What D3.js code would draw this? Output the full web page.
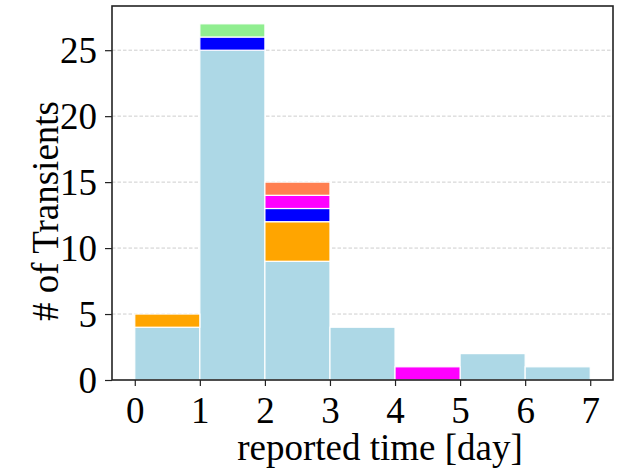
<!DOCTYPE html>
<html>
<head>
<meta charset="utf-8">
<script src="https://cdn.jsdelivr.net/npm/d3@7"></script>
<style>
  body { margin: 0; background: #fff; }
  svg { display: block; font-family: "Liberation Serif", "DejaVu Serif", serif; }
</style>
</head>
<body>
<svg id="chart" width="617" height="468"></svg>
<script>
// Histogram bin edges (days)
const binEdges = [0, 1, 2, 3, 4, 5, 6, 7];
// Counts per bin for each stacked group
const countsLightblue = [4, 25, 9, 4, 0, 2, 1];
const countsOrange = [1, 0, 3, 0, 0, 0, 0];
const countsBlue = [0, 1, 1, 0, 0, 0, 0];
const countsMagenta = [0, 0, 1, 0, 1, 0, 0];
const countsCoral = [0, 0, 1, 0, 0, 0, 0];
const countsLightgreen = [0, 1, 0, 0, 0, 0, 0];
const seriesKeys = ['lightblue', 'orange', 'blue', 'magenta', 'coral', 'lightgreen'];
const seriesColors = ['#add8e6', '#ffa500', '#0000ff', '#ff00ff', '#ff7f50', '#90ee90'];
const xTicks = [0, 1, 2, 3, 4, 5, 6, 7];
const yTicks = [0, 5, 10, 15, 20, 25];

const margin = { top: 6, right: 4, bottom: 88, left: 112 };
const width = 617, height = 468;
const fontSize = 37;
const svg = d3.select('#chart');

// build table for d3.stack
const allCounts = [countsLightblue, countsOrange, countsBlue, countsMagenta, countsCoral, countsLightgreen];
const table = binEdges.slice(0, -1).map((x0, i) => {
    const row = { x0: x0, x1: binEdges[i + 1] };
    seriesKeys.forEach((k, j) => row[k] = allCounts[j][i]);
    return row;
});
const stacked = d3.stack().keys(seriesKeys)(table);
const maxTotal = d3.max(table, d => d3.sum(seriesKeys, k => d[k]));

const x = d3.scaleLinear()
    .domain([-0.35, 7.35])
    .range([margin.left, width - margin.right]);
const y = d3.scaleLinear()
    .domain([0, maxTotal * 1.05])
    .range([height - margin.bottom, margin.top]);

// grid
svg.append('g')
    .selectAll('line')
    .data(yTicks.filter(t => t > 0))
    .join('line')
    .attr('x1', margin.left)
    .attr('x2', width - margin.right)
    .attr('y1', d => y(d))
    .attr('y2', d => y(d))
    .attr('stroke', '#c8c8c8')
    .attr('stroke-width', 0.9)
    .attr('stroke-dasharray', '3.5,2');

// bars
const color = d3.scaleOrdinal().domain(seriesKeys).range(seriesColors);
svg.append('g')
    .selectAll('g')
    .data(stacked)
    .join('g')
    .attr('fill', d => color(d.key))
    .selectAll('rect')
    .data(d => d.filter(s => s[1] > s[0]))
    .join('rect')
    .attr('x', d => x(d.data.x0))
    .attr('width', d => x(d.data.x1) - x(d.data.x0))
    .attr('y', d => y(d[1]))
    .attr('height', d => y(d[0]) - y(d[1]))
    .attr('stroke', '#fff')
    .attr('stroke-width', 1.2);

// axes
const xAxis = svg.append('g')
    .attr('transform', `translate(0,${height - margin.bottom})`)
    .call(d3.axisBottom(x).tickValues(xTicks).tickSize(6).tickPadding(11).tickFormat(d3.format('d')));
const yAxis = svg.append('g')
    .attr('transform', `translate(${margin.left},0)`)
    .call(d3.axisLeft(y).tickValues(yTicks).tickSize(7).tickPadding(8).tickFormat(d3.format('d')));

[xAxis, yAxis].forEach(g => {
    g.select('.domain').remove();
    g.selectAll('line').attr('stroke', '#222').attr('stroke-width', 1.2);
    g.selectAll('text')
        .attr('fill', '#000')
        .style('font-family', '"Liberation Serif", serif')
        .style('font-size', fontSize + 'px');
});
yAxis.selectAll('text').attr('dy', '0.34em');

// frame
svg.append('rect')
    .attr('x', margin.left)
    .attr('y', margin.top)
    .attr('width', width - margin.left - margin.right)
    .attr('height', height - margin.top - margin.bottom)
    .attr('fill', 'none')
    .attr('stroke', '#222')
    .attr('stroke-width', 1.6);

// labels
svg.append('text')
    .attr('x', 380)
    .attr('y', 460)
    .attr('text-anchor', 'middle')
    .style('font-size', fontSize + 'px')
    .text('reported time [day]');
svg.append('text')
    .attr('transform', 'translate(58,211) rotate(-90)')
    .attr('text-anchor', 'middle')
    .style('font-size', fontSize + 'px')
    .text('# of Transients');
</script>
</body>
</html>
